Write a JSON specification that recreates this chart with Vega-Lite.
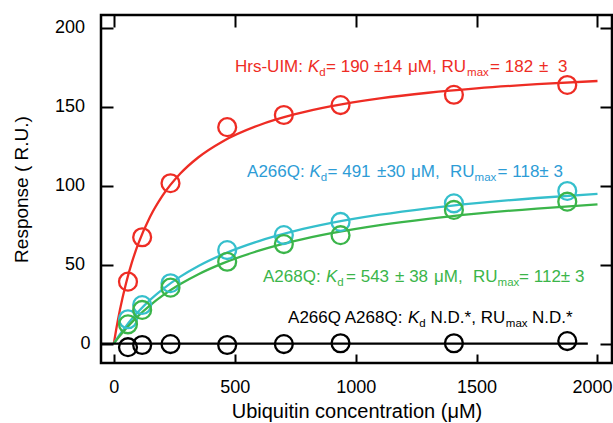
{
  "$schema": "https://vega.github.io/schema/vega-lite/v6.json",
  "width": 511,
  "height": 348,
  "autosize": {"type": "none"},
  "padding": {"left": 101, "top": 15, "right": 1, "bottom": 60},
  "background": "white",
  "config": {
    "font": "Liberation Sans",
    "view": {"stroke": "black", "strokeWidth": 2.5},
    "axis": {
      "domain": false, "grid": false, "tickColor": "black", "tickWidth": 2,
      "labelColor": "black", "titleColor": "black",
      "labelFont": "Liberation Sans", "titleFont": "Liberation Sans",
      "labelFontSize": 18, "titleFontSize": 19, "titleFontWeight": "normal"
    }
  },
  "datasets": {
    "curves": [
      {"series": "Hrs-UIM", "x": 0, "y": 0}, {"series": "Hrs-UIM", "x": 10, "y": 9.1}, {"series": "Hrs-UIM", "x": 25, "y": 21.16}, {"series": "Hrs-UIM", "x": 50, "y": 37.92}, {"series": "Hrs-UIM", "x": 75, "y": 51.51}, {"series": "Hrs-UIM", "x": 100, "y": 62.76}, {"series": "Hrs-UIM", "x": 150, "y": 80.29}, {"series": "Hrs-UIM", "x": 200, "y": 93.33}, {"series": "Hrs-UIM", "x": 275, "y": 107.63}, {"series": "Hrs-UIM", "x": 350, "y": 117.96}, {"series": "Hrs-UIM", "x": 450, "y": 127.97}, {"series": "Hrs-UIM", "x": 600, "y": 138.23}, {"series": "Hrs-UIM", "x": 750, "y": 145.21}, {"series": "Hrs-UIM", "x": 900, "y": 150.28}, {"series": "Hrs-UIM", "x": 1100, "y": 155.19}, {"series": "Hrs-UIM", "x": 1300, "y": 158.79}, {"series": "Hrs-UIM", "x": 1500, "y": 161.54}, {"series": "Hrs-UIM", "x": 1750, "y": 164.18}, {"series": "Hrs-UIM", "x": 2000, "y": 166.21},
      {"series": "A266Q", "x": 0, "y": 0}, {"series": "A266Q", "x": 10, "y": 2.36}, {"series": "A266Q", "x": 25, "y": 5.72}, {"series": "A266Q", "x": 50, "y": 10.91}, {"series": "A266Q", "x": 75, "y": 15.64}, {"series": "A266Q", "x": 100, "y": 19.97}, {"series": "A266Q", "x": 150, "y": 27.61}, {"series": "A266Q", "x": 200, "y": 34.15}, {"series": "A266Q", "x": 275, "y": 42.36}, {"series": "A266Q", "x": 350, "y": 49.11}, {"series": "A266Q", "x": 450, "y": 56.43}, {"series": "A266Q", "x": 600, "y": 64.9}, {"series": "A266Q", "x": 750, "y": 71.31}, {"series": "A266Q", "x": 900, "y": 76.35}, {"series": "A266Q", "x": 1100, "y": 81.58}, {"series": "A266Q", "x": 1300, "y": 85.65}, {"series": "A266Q", "x": 1500, "y": 88.9}, {"series": "A266Q", "x": 1750, "y": 92.15}, {"series": "A266Q", "x": 2000, "y": 94.74},
      {"series": "A268Q", "x": 0, "y": 0}, {"series": "A268Q", "x": 10, "y": 2.03}, {"series": "A268Q", "x": 25, "y": 4.93}, {"series": "A268Q", "x": 50, "y": 9.44}, {"series": "A268Q", "x": 75, "y": 13.59}, {"series": "A268Q", "x": 100, "y": 17.42}, {"series": "A268Q", "x": 150, "y": 24.24}, {"series": "A268Q", "x": 200, "y": 30.15}, {"series": "A268Q", "x": 275, "y": 37.65}, {"series": "A268Q", "x": 350, "y": 43.9}, {"series": "A268Q", "x": 450, "y": 50.76}, {"series": "A268Q", "x": 600, "y": 58.79}, {"series": "A268Q", "x": 750, "y": 64.97}, {"series": "A268Q", "x": 900, "y": 69.85}, {"series": "A268Q", "x": 1100, "y": 74.99}, {"series": "A268Q", "x": 1300, "y": 79.0}, {"series": "A268Q", "x": 1500, "y": 82.23}, {"series": "A268Q", "x": 1750, "y": 85.48}, {"series": "A268Q", "x": 2000, "y": 88.09},
      {"series": "A266Q A268Q", "x": -53, "y": 0}, {"series": "A266Q A268Q", "x": 1960, "y": 0}
    ],
    "points": [
      {"series": "Hrs-UIM", "x": 58.6, "y": 39.2}, {"series": "Hrs-UIM", "x": 117.2, "y": 67.3}, {"series": "Hrs-UIM", "x": 234.4, "y": 101.5}, {"series": "Hrs-UIM", "x": 468.8, "y": 137}, {"series": "Hrs-UIM", "x": 703.1, "y": 144.7}, {"series": "Hrs-UIM", "x": 937.5, "y": 151}, {"series": "Hrs-UIM", "x": 1406.3, "y": 157.5}, {"series": "Hrs-UIM", "x": 1875, "y": 163.7},
      {"series": "A266Q", "x": 58.6, "y": 15.4}, {"series": "A266Q", "x": 117.2, "y": 24.4}, {"series": "A266Q", "x": 234.4, "y": 38.2}, {"series": "A266Q", "x": 468.8, "y": 59.2}, {"series": "A266Q", "x": 703.1, "y": 68.7}, {"series": "A266Q", "x": 937.5, "y": 77}, {"series": "A266Q", "x": 1406.3, "y": 88.8}, {"series": "A266Q", "x": 1875, "y": 96.6},
      {"series": "A268Q", "x": 58.6, "y": 12.2}, {"series": "A268Q", "x": 117.2, "y": 21.3}, {"series": "A268Q", "x": 234.4, "y": 35.4}, {"series": "A268Q", "x": 468.8, "y": 51.8}, {"series": "A268Q", "x": 703.1, "y": 63}, {"series": "A268Q", "x": 937.5, "y": 68.6}, {"series": "A268Q", "x": 1406.3, "y": 84.6}, {"series": "A268Q", "x": 1875, "y": 89.8},
      {"series": "A266Q A268Q", "x": 58.6, "y": -2.3}, {"series": "A266Q A268Q", "x": 117.2, "y": -0.9}, {"series": "A266Q A268Q", "x": 234.4, "y": -0.3}, {"series": "A266Q A268Q", "x": 468.8, "y": -0.9}, {"series": "A266Q A268Q", "x": 703.1, "y": -0.3}, {"series": "A266Q A268Q", "x": 937.5, "y": 0.2}, {"series": "A266Q A268Q", "x": 1406.3, "y": 0.2}, {"series": "A266Q A268Q", "x": 1875, "y": 1.6}
    ],
    "txt_normal": [
      {"series": "Hrs-UIM", "x": 501.2, "y": 172.2, "text": "Hrs-UIM:"},
      {"series": "Hrs-UIM", "x": 877.6, "y": 172.2, "text": "= 190"},
      {"series": "Hrs-UIM", "x": 1076.1, "y": 172.2, "text": "±14"},
      {"series": "Hrs-UIM", "x": 1216.7, "y": 172.2, "text": "μM, RU"},
      {"series": "Hrs-UIM", "x": 1555.8, "y": 172.2, "text": "= 182"},
      {"series": "Hrs-UIM", "x": 1758.5, "y": 172.2, "text": "±"},
      {"series": "Hrs-UIM", "x": 1837.1, "y": 172.2, "text": "3"},
      {"series": "A266Q", "x": 550.9, "y": 105.6, "text": "A266Q:"},
      {"series": "A266Q", "x": 883.8, "y": 105.6, "text": "= 491"},
      {"series": "A266Q", "x": 1088.5, "y": 105.6, "text": "±30"},
      {"series": "A266Q", "x": 1229.1, "y": 105.6, "text": "μM,"},
      {"series": "A266Q", "x": 1390.4, "y": 105.6, "text": "RU"},
      {"series": "A266Q", "x": 1586.9, "y": 105.6, "text": "= 118± 3"},
      {"series": "A268Q", "x": 617.0, "y": 39.2, "text": "A268Q:"},
      {"series": "A268Q", "x": 960.3, "y": 39.2, "text": "= 543"},
      {"series": "A268Q", "x": 1163.0, "y": 39.2, "text": "± 38"},
      {"series": "A268Q", "x": 1324.2, "y": 39.2, "text": "μM,"},
      {"series": "A268Q", "x": 1485.5, "y": 39.2, "text": "RU"},
      {"series": "A268Q", "x": 1675.8, "y": 39.2, "text": "= 112± 3"},
      {"series": "A266Q A268Q", "x": 720.4, "y": 12.85, "text": "A266Q A268Q:"},
      {"series": "A266Q A268Q", "x": 1309.8, "y": 12.85, "text": "N.D.*, RU"},
      {"series": "A266Q A268Q", "x": 1729.1, "y": 12.85, "text": "N.D.*"}
    ],
    "txt_italic": [
      {"series": "Hrs-UIM", "x": 803.1, "y": 172.2, "text": "K"},
      {"series": "A266Q", "x": 808.9, "y": 105.6, "text": "K"},
      {"series": "A268Q", "x": 877.6, "y": 39.2, "text": "K"},
      {"series": "A266Q A268Q", "x": 1216.7, "y": 12.85, "text": "K"}
    ],
    "txt_sub": [
      {"series": "Hrs-UIM", "x": 849.9, "y": 172.2, "text": "d"},
      {"series": "Hrs-UIM", "x": 1460.7, "y": 172.2, "text": "max"},
      {"series": "A266Q", "x": 855.7, "y": 105.6, "text": "d"},
      {"series": "A266Q", "x": 1491.7, "y": 105.6, "text": "max"},
      {"series": "A268Q", "x": 924.3, "y": 39.2, "text": "d"},
      {"series": "A268Q", "x": 1586.9, "y": 39.2, "text": "max"},
      {"series": "A266Q A268Q", "x": 1263.4, "y": 12.85, "text": "d"},
      {"series": "A266Q A268Q", "x": 1620.9, "y": 12.85, "text": "max"}
    ]
  },
  "layer": [
    {
      "data": {"name": "curves"},
      "mark": {"type": "line", "strokeWidth": 2.3, "interpolate": "monotone"},
      "encoding": {
        "x": {"field": "x", "type": "quantitative", "scale": {"domain": [-53, 2060], "nice": false, "zero": false},
              "axis": {"orient": "bottom", "values": [0, 500, 1000, 1500, 2000], "format": "d", "tickSize": -9, "labelPadding": 24,
                       "labelOffset": {"condition": {"test": "datum.value == 2000", "value": -5.5}, "value": 0},
                       "title": "Ubiquitin concentration (μM)", "titleFontSize": 20, "titlePadding": 5}},
        "y": {"field": "y", "type": "quantitative", "scale": {"domain": [-12.3, 208], "nice": false, "zero": false},
              "axis": {"orient": "left", "values": [0, 50, 100, 150, 200], "tickSize": -12,
                       "labelPadding": {"condition": {"test": "datum.value == 0", "value": 23}, "value": 28.5},
                       "title": "Response ( R.U.)", "titlePadding": 23}},
        "color": {"field": "series", "type": "nominal", "legend": null,
                  "scale": {"domain": ["Hrs-UIM", "A266Q", "A268Q", "A266Q A268Q"], "range": ["#ee2c24", "#35bfcc", "#3bb54a", "#000000"]}}
      }
    },
    {
      "data": {"name": "points"},
      "mark": {"type": "point", "shape": "circle", "filled": false, "size": 320, "strokeWidth": 2.3, "opacity": 1},
      "encoding": {
        "x": {"field": "x", "type": "quantitative", "axis": {"orient": "top", "values": [0, 500, 1000, 1500, 2000], "tickSize": -12, "labels": false, "title": null}},
        "y": {"field": "y", "type": "quantitative", "axis": {"orient": "right", "values": [0, 50, 100, 150, 200], "tickSize": -12, "labels": false, "title": null}},
        "color": {"field": "series", "type": "nominal", "legend": null,
                  "scale": {"domain": ["Hrs-UIM", "A266Q", "A268Q", "A266Q A268Q"], "range": ["#ee2c24", "#35bfcc", "#3bb54a", "#000000"]}}
      }
    },
    {
      "encoding": {
        "x": {"field": "x", "type": "quantitative", "axis": null},
        "y": {"field": "y", "type": "quantitative", "axis": null},
        "text": {"field": "text"},
        "color": {"field": "series", "type": "nominal", "legend": null,
                  "scale": {"domain": ["Hrs-UIM", "A266Q", "A268Q", "A266Q A268Q"], "range": ["#ee2c24", "#2d9cd6", "#3bb54a", "#000000"]}}
      },
      "layer": [
        {"data": {"name": "txt_normal"}, "mark": {"type": "text", "align": "left", "baseline": "alphabetic", "fontSize": 17, "font": "Liberation Sans"}},
        {"data": {"name": "txt_italic"}, "mark": {"type": "text", "align": "left", "baseline": "alphabetic", "fontSize": 17, "fontStyle": "italic", "font": "Liberation Sans"}},
        {"data": {"name": "txt_sub"}, "mark": {"type": "text", "align": "left", "baseline": "alphabetic", "fontSize": 11.5, "dy": 4, "font": "Liberation Sans"}}
      ]
    }
  ],
  "resolve": {"scale": {"color": "independent"}, "axis": {"x": "independent", "y": "independent"}}
}
